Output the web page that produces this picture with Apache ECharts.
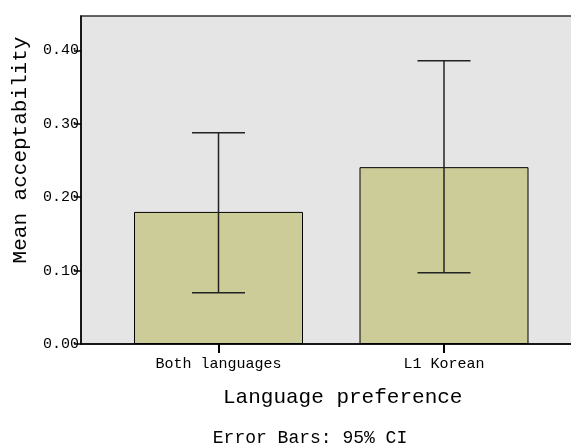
<!DOCTYPE html>
<html>
<head>
<meta charset="utf-8">
<script src="https://cdn.jsdelivr.net/npm/echarts@6/dist/echarts.min.js"></script>
<style>
html,body{margin:0;padding:0;background:#fff;}
#chart{width:571px;height:448px;}
</style>
</head>
<body>
<div id="chart"></div>
<script>
const categories = ['Both languages', 'L1 Korean'];
const means = [0.180, 0.241];
const ciLow = [0.070, 0.097];
const ciHigh = [0.288, 0.386];
const yTicks = [0, 0.1, 0.2, 0.3, 0.4];
const yMax = 0.447;

const FONT = '"Liberation Mono", "Courier New", monospace';
const chart = echarts.init(document.getElementById('chart'), null, {renderer: 'canvas'});

const errData = categories.map((c, i) => [i, ciLow[i], ciHigh[i]]);

chart.setOption({
  animation: false,
  backgroundColor: '#ffffff',
  grid: [
    {left: 81, top: 16, width: 500, height: 328, show: true, backgroundColor: '#e5e5e5',
     borderColor: '#333333', borderWidth: 1.5, containLabel: false, outerBoundsMode: 'none'},
    {left: 105.75, top: 16, width: 451, height: 328, show: false, containLabel: false, outerBoundsMode: 'none'}
  ],
  xAxis: [
    {gridIndex: 0, type: 'value', min: 0, max: 1,
     axisLine: {show: true, onZero: false, lineStyle: {color: '#000', width: 1.5}},
     axisTick: {show: false}, axisLabel: {show: false}, splitLine: {show: false}},
    {gridIndex: 1, type: 'category', data: categories,
     axisLine: {show: false},
     axisTick: {show: true, alignWithLabel: true, length: 9, lineStyle: {color: '#000', width: 2}},
     axisLabel: {show: true, margin: 13, fontFamily: FONT, fontSize: 15, color: '#000'},
     splitLine: {show: false}}
  ],
  yAxis: [
    {gridIndex: 0, type: 'value', min: 0, max: yMax,
     axisLine: {show: true, lineStyle: {color: '#000', width: 1.5}},
     axisTick: {show: true, length: 7, inside: false, customValues: yTicks, lineStyle: {color: '#000', width: 1.5}},
     axisLabel: {show: true, margin: 2, customValues: yTicks, fontFamily: FONT, fontSize: 15, color: '#000',
       formatter: v => v.toFixed(2)},
     splitLine: {show: false}},
    {gridIndex: 1, type: 'value', min: 0, max: yMax, show: false, splitLine: {show: false}}
  ],
  series: [
    {type: 'bar', xAxisIndex: 1, yAxisIndex: 1, data: means, barWidth: 169,
     itemStyle: {color: '#cccc99', borderColor: '#000', borderWidth: 1}, z: 2},
    {type: 'custom', xAxisIndex: 1, yAxisIndex: 1, data: errData, z: 3,
     renderItem: function (params, api) {
       const x = api.value(0);
       const lo = api.coord([x, api.value(1)]);
       const hi = api.coord([x, api.value(2)]);
       const half = 26.5;
       const style = {stroke: '#222', lineWidth: 1.5};
       return {type: 'group', children: [
         {type: 'line', shape: {x1: lo[0], y1: lo[1], x2: hi[0], y2: hi[1]}, style: style},
         {type: 'line', shape: {x1: hi[0] - half, y1: hi[1], x2: hi[0] + half, y2: hi[1]}, style: style},
         {type: 'line', shape: {x1: lo[0] - half, y1: lo[1], x2: lo[0] + half, y2: lo[1]}, style: style}
       ]};
     }}
  ],
  graphic: [
    {type: 'text', left: 343 - 120, top: 387, style: {text: 'Language preference', font: '21px ' + FONT, fill: '#000', width: 240, align: 'left'}},
    {type: 'text', x: 310, y: 438, style: {text: 'Error Bars: 95% CI', font: '18px ' + FONT, fill: '#000', align: 'center', verticalAlign: 'middle'}},
    {type: 'text', x: 20, y: 150, rotation: Math.PI / 2, style: {text: 'Mean acceptability', font: '21px ' + FONT, fill: '#000', align: 'center', verticalAlign: 'middle'}}
  ]
});
</script>
</body>
</html>
